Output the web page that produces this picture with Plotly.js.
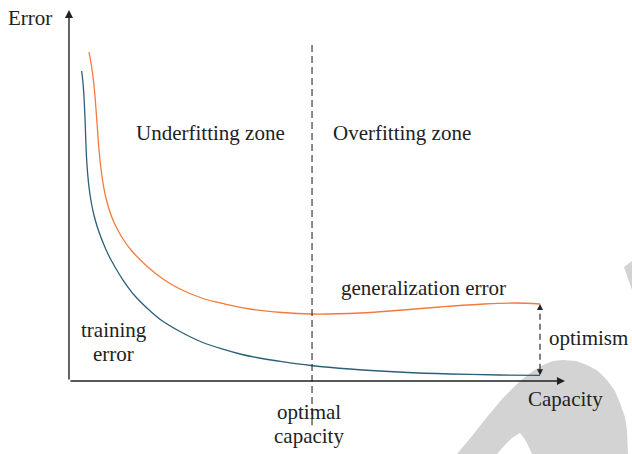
<!DOCTYPE html>
<html>
<head>
<meta charset="utf-8">
<script src="https://cdn.plot.ly/plotly-3.0.1.min.js"></script>
<style>html,body{margin:0;padding:0;background:#fff;}#chart{width:632px;height:454px;}</style>
</head>
<body>
<div id="chart"></div>
<script>
// ---- data (capacity vs error, arbitrary units) ----
var trainingCapacity = [0.256,0.286,0.306,0.323,0.337,0.353,0.375,0.403,0.444,0.498,0.571,0.665,0.786,0.927,1.089,1.331,1.593,1.855,2.238,2.673,3.085,3.488,3.891,4.294,4.879,5.665,6.734,7.681,8.690,9.496];
var trainingError    = [8.356,7.978,7.574,7.089,6.550,6.038,5.606,5.229,4.852,4.501,4.151,3.801,3.423,3.073,2.722,2.291,1.941,1.644,1.334,1.051,0.863,0.714,0.606,0.520,0.418,0.323,0.235,0.189,0.162,0.154];
var generalCapacity  = [0.403,0.454,0.494,0.524,0.550,0.575,0.599,0.625,0.659,0.700,0.750,0.813,0.887,0.978,1.089,1.250,1.567,1.895,2.238,2.673,3.145,3.649,4.294,4.899,5.867,6.734,7.480,8.367,8.992,9.496];
var generalError     = [8.868,8.491,8.086,7.682,7.224,6.765,6.334,5.957,5.580,5.229,4.906,4.609,4.340,4.084,3.827,3.531,3.100,2.749,2.480,2.237,2.075,1.941,1.846,1.806,1.833,1.914,1.995,2.075,2.102,2.075];
var optimalCapacity = 4.90;
var axisMaxCapacity = 10;
var axisMaxError = 10;
var labels = {
  yAxis: "Error", xAxis: "Capacity",
  under: "Underfitting zone", over: "Overfitting zone",
  general: "generalization error", training: ["training", "error"],
  optimism: "optimism", optimal: ["optimal", "capacity"]
};

var TEAL = "#2c6078", ORANGE = "#f47a3a", INK = "#222222";
var FONT = {family: "Liberation Serif", size: 21, color: INK};

var traces = [
  {x: trainingCapacity, y: trainingError, mode: "lines", type: "scatter",
   line: {color: TEAL, width: 1.3, shape: "spline", smoothing: 1.0, simplify: false}, hoverinfo: "skip"},
  {x: generalCapacity, y: generalError, mode: "lines", type: "scatter",
   line: {color: ORANGE, width: 1.3, shape: "spline", smoothing: 1.0, simplify: false}, hoverinfo: "skip"}
];

var lastTrain = trainingError[trainingError.length - 1];
var lastGen = generalError[generalError.length - 1];
var endCap = generalCapacity[generalCapacity.length - 1];

// watermark decoration (pixel outline -> paper coords)
function pathFromPx(pts) {
  return pts.map(function(p, i){ return (i ? "L" : "M") + (p[0]/632).toFixed(4) + "," + (1 - p[1]/454).toFixed(4); }).join(" ") + " Z";
}
var wm1 = pathFromPx([[457,454],[472,436],[487,417],[503,398],[520,381],[533,371],[543,365],[553,361],[563,360],[576,361],[587,365],[598,371],[607,380],[615,391],[620,403],[625,417],[627,430],[628,454],[532,454],[526,441],[520,433],[512,438],[503,447],[497,454]]);
var wm2 = pathFromPx([[624,267],[632,261],[632,290]]);

var shapes = [
  {type: "path", xref: "paper", yref: "paper", path: wm1, fillcolor: "#d3d3d3", line: {width: 0}, layer: "below"},
  {type: "path", xref: "paper", yref: "paper", path: wm2, fillcolor: "#d3d3d3", line: {width: 0}, layer: "below"},
  {type: "line", xref: "x", yref: "y", x0: optimalCapacity, x1: optimalCapacity, y0: 9.06, y1: -1.19,
   line: {color: "#2a2a2a", width: 1.1, dash: "7px,4px"}},
  {type: "line", xref: "x", yref: "y", x0: endCap, x1: endCap, y0: lastTrain + 0.15, y1: lastGen - 0.15,
   line: {color: "#555555", width: 1.5, dash: "6px,4px"}}
];

function txt(x, y, t) {
  return {x: x, y: y, xref: "x", yref: "y", text: t, showarrow: false, font: FONT,
          xanchor: "center", yanchor: "middle"};
}
function arrow(x, y, ax, ay, w, size) {
  return {x: x, y: y, ax: ax, ay: ay, xref: "x", yref: "y", axref: "x", ayref: "y",
          text: "", showarrow: true, arrowhead: 2, arrowsize: size, arrowwidth: w, arrowcolor: INK};
}
function head(x, y, dy) {
  return {x: x, y: y, xref: "x", yref: "y", ax: 0, ay: dy, text: "", showarrow: true,
          arrowhead: 2, arrowsize: 1.1, arrowwidth: 1.1, arrowcolor: INK};
}

var annotations = [
  arrow(axisMaxCapacity, 0, 0, 0, 1.4, 1.15),
  arrow(0, axisMaxError, 0, 0, 1.4, 1.15),
  head(endCap, lastGen, 7),
  head(endCap, lastTrain, -7),
  txt(-0.78, 9.78, labels.yAxis),
  txt(10.02, -0.49, labels.xAxis),
  txt(2.86, 6.69, labels.under),
  txt(6.71, 6.69, labels.over),
  txt(7.14, 2.51, labels.general),
  txt(0.90, 1.38, labels.training[0]),
  txt(0.90, 0.73, labels.training[1]),
  txt(10.48, 1.16, labels.optimism),
  txt(4.83, -0.84, labels.optimal[0]),
  txt(4.83, -1.48, labels.optimal[1])
];

var hidden = {visible: false, showgrid: false, zeroline: false, fixedrange: true};
var layout = {
  width: 632, height: 454,
  margin: {l: 0, r: 0, t: 0, b: 0},
  paper_bgcolor: "#ffffff", plot_bgcolor: "#ffffff",
  showlegend: false,
  font: FONT,
  xaxis: Object.assign({range: [-1.391, 11.351]}, hidden),
  yaxis: Object.assign({range: [-1.968, 10.270]}, hidden),
  shapes: shapes,
  annotations: annotations
};

Plotly.newPlot("chart", traces, layout, {displayModeBar: false, staticPlot: true});
</script>
</body>
</html>
